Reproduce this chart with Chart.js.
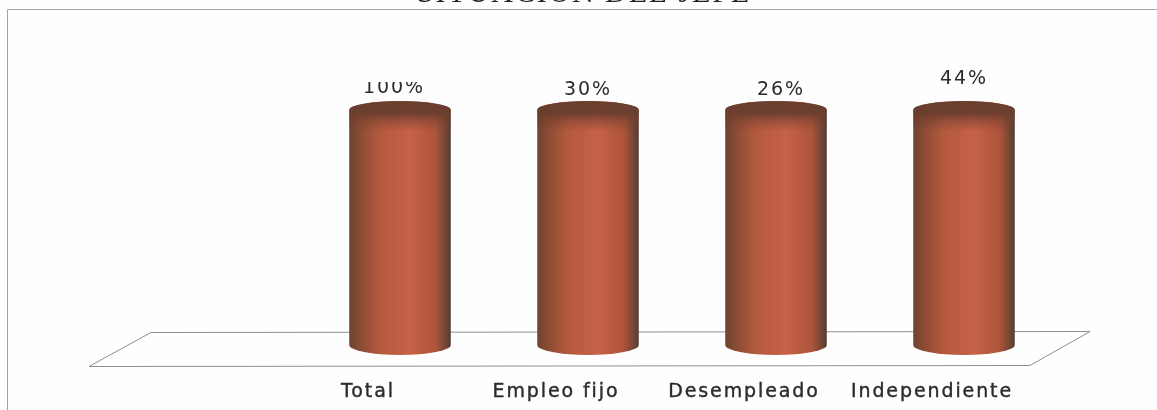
<!DOCTYPE html>
<html>
<head>
<meta charset="utf-8">
<title>Situación laboral</title>
<script src="https://cdn.jsdelivr.net/npm/chart.js@4/dist/chart.umd.min.js"></script>
<style>
html, body { margin: 0; padding: 0; background: #fdfefd; overflow: hidden; }
#wrap { width: 1157px; height: 410px; }
canvas { filter: blur(0.6px); }
</style>
</head>
<body>
<div id="wrap"><canvas id="chart" width="1157" height="410"></canvas></div>
<script>
// Data: all four cylinders are the same height,
// whatever their printed percentage says
const chartTitle = 'SITUACION DEL JEFE';
const categories = ['Total', 'Empleo fijo', 'Desempleado', 'Independiente'];
const barHeights = [100, 100, 100, 100];
const printedPercents = [100, 30, 26, 44];

// Label nudges in pixels, the original labels are not centred on the bars
const labelShiftX = [-6, 0, 5, 0];
const labelLift = [17, 15, 15, 26];

const textColor = '#2b2b2b';
const textFont = '"DejaVu Sans", sans-serif';

function drawCylinder(ctx, bar) {
    const left = bar.x - bar.width / 2;
    const right = bar.x + bar.width / 2;
    const rx = bar.width / 2;
    const ry = 9;

    const side = ctx.createLinearGradient(left, 0, right, 0);
    side.addColorStop(0, '#6a4331');
    side.addColorStop(0.1, '#8a4b33');
    side.addColorStop(0.3, '#b45a3e');
    side.addColorStop(0.6, '#c66146');
    side.addColorStop(0.85, '#ad553b');
    side.addColorStop(0.95, '#744635');
    side.addColorStop(1, '#503c33');

    // whole outline: round lid on top, round bottom
    ctx.save();
    ctx.beginPath();
    ctx.ellipse(bar.x, bar.y, rx, ry, 0, Math.PI, 0);
    ctx.lineTo(right, bar.base);
    ctx.ellipse(bar.x, bar.base, rx, ry + 1, 0, 0, Math.PI);
    ctx.closePath();
    ctx.fillStyle = side;
    ctx.fill();
    ctx.clip();

    // the lid has no hard edge, it fades into the body
    const lid = ctx.createLinearGradient(0, bar.y - ry, 0, bar.y + 22);
    lid.addColorStop(0, 'rgba(104,62,46,1)');
    lid.addColorStop(0.4, 'rgba(106,62,46,0.95)');
    lid.addColorStop(0.65, 'rgba(112,62,46,0.45)');
    lid.addColorStop(1, 'rgba(120,64,48,0)');
    ctx.fillStyle = lid;
    ctx.fillRect(left, bar.y - ry, bar.width, ry + 22);
    ctx.restore();
}

// Frame and floor sit under the bars, cylinders and labels over them
const cylinderPlugin = {
    id: 'cylinders',
    beforeDraw(chart) {
        const ctx = chart.ctx;
        const area = chart.chartArea;
        ctx.letterSpacing = '1.9px';

        ctx.strokeStyle = '#a2a4a3';
        ctx.lineWidth = 1;
        ctx.beginPath();
        ctx.moveTo(7.5, chart.height);
        ctx.lineTo(7.5, 9.5);
        ctx.lineTo(chart.width, 9.5);
        ctx.stroke();

        ctx.strokeStyle = '#8e9090';
        ctx.beginPath();
        ctx.moveTo(area.left - 155, area.bottom - 12.5);
        ctx.lineTo(area.right + 32, area.bottom - 13.5);
        ctx.lineTo(area.right - 28, area.bottom + 20.5);
        ctx.lineTo(area.left - 217, area.bottom + 21.5);
        ctx.closePath();
        ctx.stroke();
    },
    afterDatasetsDraw(chart) {
        const ctx = chart.ctx;
        const bars = chart.getDatasetMeta(0).data;
        bars.forEach((bar, i) => {
            drawCylinder(ctx, bar);

            const x = bar.x + labelShiftX[i];
            const y = bar.y - labelLift[i];
            ctx.save();
            if (i === 0) {
                // the top of the first label is cut off in the original
                ctx.beginPath();
                ctx.rect(x - 50, y - 11, 100, 30);
                ctx.clip();
            }
            ctx.font = '19px ' + textFont;
            ctx.fillStyle = textColor;
            ctx.textAlign = 'center';
            ctx.textBaseline = 'alphabetic';
            ctx.fillText(printedPercents[i] + '%', x, y);
            ctx.restore();
        });
    }
};

function init() {
    new Chart(document.getElementById('chart'), {
        type: 'bar',
        data: {
            labels: categories,
            datasets: [{
                data: barHeights,
                backgroundColor: 'rgba(0,0,0,0)',
                barPercentage: 0.54,
                categoryPercentage: 1
            }]
        },
        options: {
            responsive: false,
            animation: false,
            layout: { padding: { left: 11 } },
            plugins: {
                legend: { display: false },
                tooltip: { enabled: false },
                title: {
                    display: true,
                    text: chartTitle,
                    color: '#222',
                    font: { family: '"Liberation Serif", serif', size: 30, weight: 'normal', lineHeight: 1.2 },
                    padding: { top: -23.5, bottom: 97.5 }
                }
            },
            scales: {
                x: {
                    grid: { display: false },
                    border: { display: false },
                    afterFit(axis) { axis.height = 65; },
                    ticks: {
                        autoSkip: false,
                        maxRotation: 0,
                        padding: 28,
                        labelOffset: -32,
                        color: textColor,
                        textStrokeColor: textColor,
                        textStrokeWidth: 0.4,
                        font: { family: textFont, size: 19 }
                    }
                },
                y: {
                    min: 0,
                    max: 100,
                    grid: { display: false },
                    border: { display: false },
                    ticks: { display: false },
                    afterFit(axis) { axis.width = 295; }
                },
                // empty axis, only holds the space right of the last bar
                spacer: {
                    position: 'right',
                    grid: { display: false },
                    border: { display: false },
                    ticks: { display: false },
                    afterFit(axis) { axis.width = 99; }
                }
            }
        },
        plugins: [cylinderPlugin]
    });
}

document.addEventListener('DOMContentLoaded', init);
</script>
</body>
</html>
